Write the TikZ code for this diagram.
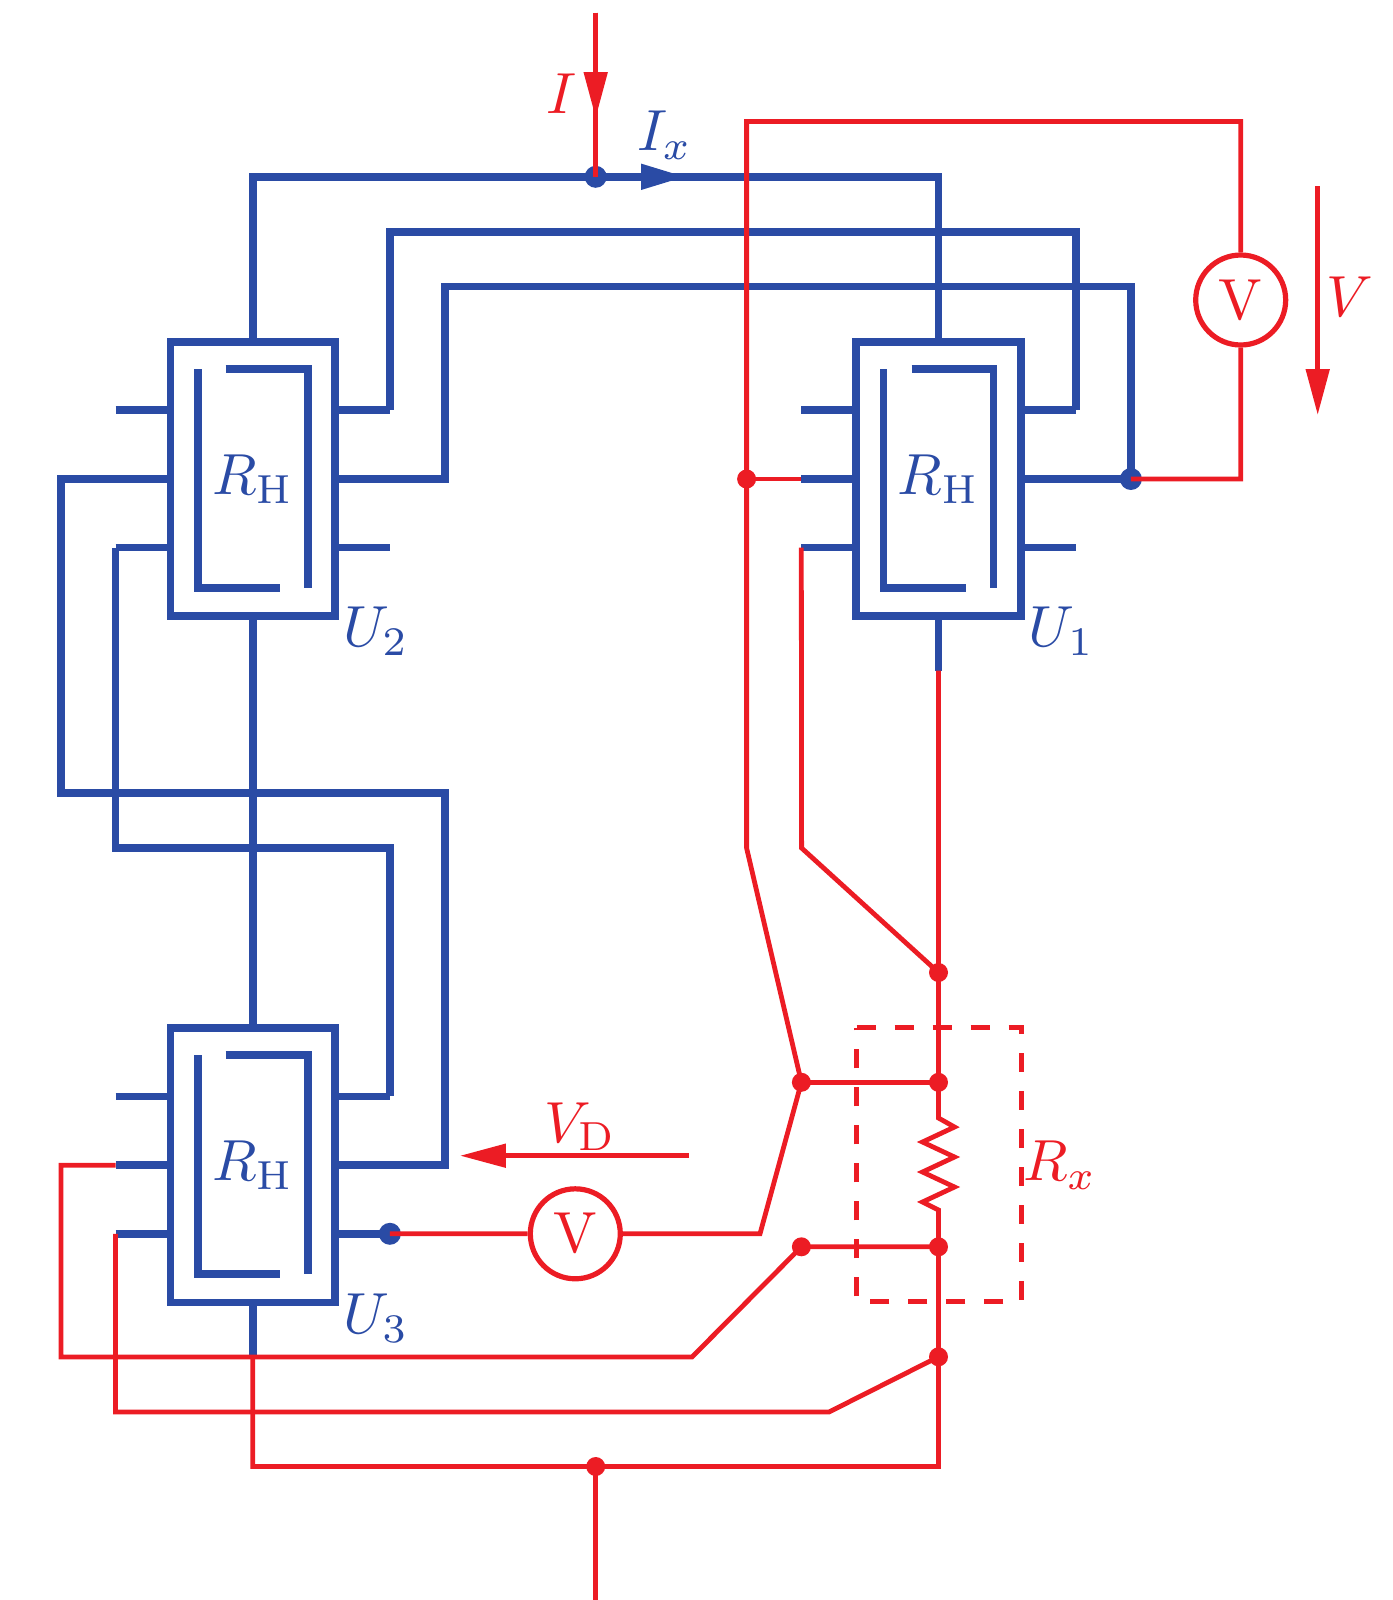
\documentclass[tikz,border=0pt]{standalone}
\usetikzlibrary{arrows.meta}
\definecolor{wireblue}{RGB}{42,75,165}
\definecolor{wirered}{RGB}{236,28,36}
\newcommand{\bigsym}[1]{\scalebox{3.3}{#1}}
\tikzset{
  bwire/.style={draw=wireblue, line width=7.7*0.02cm},
  rwire/.style={draw=wirered, line width=4.8*0.02cm},
  rarrow/.style={draw=wirered, line width=5*0.02cm, -{Triangle[length=0.92cm, width=0.46cm]}, wirered},
  barrow/.style={draw=wireblue, line width=7.7*0.02cm, -{Triangle[length=0.9cm, width=0.48cm]}, wireblue},
  bigtext/.style={inner sep=0pt},
  rhbox/.style={bwire, rectangle, text=wireblue, bigtext, minimum width=3.29cm, minimum height=5.49cm},
  bdot/.style={circle, fill=wireblue, inner sep=0pt, minimum size=0.44cm},
  rdot/.style={circle, fill=wirered, inner sep=0pt, minimum size=0.38cm},
  voltm/.style={draw=wirered, line width=5.2*0.02cm, circle, text=wirered, bigtext, fill=white, minimum size=1.8cm},
  blab/.style={bigtext, text=wireblue, anchor=base west},
  rlab/.style={bigtext, text=wirered, anchor=base west}
}

\begin{document}
\begin{tikzpicture}[x=0.02cm, y=-0.02cm]
\useasboundingbox (0,0) rectangle (1393,1600);

\node[rhbox] (U1) at (938.5,479) {\bigsym{$R_{\mathrm{H}}$}};
\node[rhbox] (U2) at (252.7,479) {\bigsym{$R_{\mathrm{H}}$}};
\node[rhbox] (U3) at (252.7,1165.2) {\bigsym{$R_{\mathrm{H}}$}};

\foreach \n in {U1,U2,U3} {
  \draw[bwire] ([shift={(-55,-110)}]\n.center) -- ([shift={(-55,109)}]\n.center) -- ([shift={(27.5,109)}]\n.center);
  \draw[bwire] ([shift={(-27,-110)}]\n.center) -- ([shift={(55,-110)}]\n.center) -- ([shift={(55,109)}]\n.center);
  \coordinate (\n l1) at ([shift={(-137.2,-68.8)}]\n.center);
  \coordinate (\n l2) at ([shift={(-137.2,0)}]\n.center);
  \coordinate (\n l3) at ([shift={(-137.2,68.6)}]\n.center);
  \coordinate (\n r1) at ([shift={(137.2,-68.8)}]\n.center);
  \coordinate (\n r2) at ([shift={(137.2,0)}]\n.center);
  \coordinate (\n r3) at ([shift={(137.2,68.6)}]\n.center);
  \draw[bwire] (\n l1) -- (\n l1 -| \n.west);
  \draw[bwire] (\n l2) -- (\n l2 -| \n.west);
  \draw[bwire] (\n l3) -- (\n l3 -| \n.west);
  \draw[bwire] (\n r1) -- (\n r1 -| \n.east);
  \draw[bwire] (\n r2) -- (\n r2 -| \n.east);
  \draw[bwire] (\n r3) -- (\n r3 -| \n.east);
}

\node[bdot] (IxNode) at (595.7,176.8) {};
\node[bdot] (VDot) at (1130.9,479) {};
\node[bdot] (VdDot) at (389.9,1233.8) {};

\coordinate (topA) at (252.7,176.8);
\coordinate (topB) at (938.5,176.8);
\draw[bwire] (U2.north) -- (topA) -- (topB) -- (U1.north);
\draw[barrow] (IxNode.center) -- (686,176.8);

\draw[bwire] (U2r1) -- (389.9,231.7) -- (1075.7,231.7) -- (U1r1);
\draw[bwire] (U2r2) -- (444.8,479) -- (444.8,286.6) -- (1130.9,286.6) -- (VDot.center);
\draw[bwire] (VDot.center) -- (U1r2);

\draw[bwire] (U2l2) -- (60.9,479) -- (60.9,793) -- (444.8,793) -- (444.8,1165.2) -- (U3r2);
\draw[bwire] (U2l3) -- (115.5,848) -- (389.9,848) -- (U3r1);
\draw[bwire] (U2.south) -- (U3.north);
\draw[bwire] (U3r3) -- (VdDot.center);
\coordinate (U1tail) at (938.5,670.5);
\coordinate (U3tail) at (252.7,1357);
\draw[bwire] (U1.south) -- (U1tail);
\draw[bwire] (U3.south) -- (U3tail);

\node[voltm] (Vm1) at (1240.7,300) {\bigsym{V}};
\node[voltm] (Vm2) at (575.3,1233.8) {\bigsym{V}};

\node[rdot] (Ra) at (938.5,972.5) {};
\node[rdot] (Rb) at (938.5,1082.3) {};
\node[rdot] (Rc) at (938.5,1246.8) {};
\node[rdot] (Rd) at (938.5,1356.8) {};
\node[rdot] (Re) at (801.4,1082.3) {};
\node[rdot] (Rf) at (801.4,1246.8) {};
\node[rdot] (Rg) at (746.6,479) {};
\node[rdot] (Rh) at (595.7,1466.5) {};

\coordinate (Itop) at (595.7,12.5);
\coordinate (Ibot) at (595.7,1600);
\coordinate (Rbl) at (252.7,1466.5);
\coordinate (Rbr) at (938.5,1466.5);
\draw[rwire] (U1tail) -- (Ra.center) -- (Rb.center) -- (938.5,1118) -- ++(16,9) -- ++(-32,15) -- ++(32,15) -- ++(-32,15) -- ++(32,15) -- ++(-32,15) -- (938.5,1210) -- (Rc.center) -- (Rd.center) -- (Rbr) -- (Rbl) -- (U3tail);
\draw[rwire] (Rh.center) -- (Ibot);
\draw[rwire] (Itop) -- (IxNode.center);
\draw[rarrow] (Itop) -- (595.7,118);

\draw[rwire] (U1l3) -- (801.6,848) -- (Ra.center);
\draw[rwire] (U1l2) -- (Rg.center);
\draw[rwire] (VdDot.center) -- (Vm2) -- (760,1233.8) -- (Re.center) -- (746.6,848) -- (Rg.center) -- (746.6,121.5) -- (1240.7,121.5) -- (Vm1) -- (1240.7,479) -- (VDot.center);
\draw[rwire] (Re.center) -- (Rb.center);
\draw[rwire] (Rc.center) -- (Rf.center) -- (692,1357) -- (60.9,1357) -- (60.9,1165.2) -- (U3l2);
\draw[rwire] (Rd.center) -- (829,1412) -- (115.5,1412) -- (U3l3);

\coordinate (RxA) at (856.7,1027.7);
\coordinate (RxB) at (1021,1301.7);
\draw[rwire, line width=5*0.02cm, dash pattern=on 0.38cm off 0.38cm] (RxA) -| (RxB) -| cycle;

\draw[rarrow] (1317.7,186) -- (1317.7,415);
\draw[rarrow] (689,1155.7) -- (460,1155.7);

\node[rlab] (Ilab) at (546,113) {\bigsym{$I$}};
\node[blab] (Ixlab) at (637,150.7) {\bigsym{$I_x$}};
\node[rlab] (Vlab) at (1326,316) {\bigsym{$V$}};
\node[rlab] (VDlab) at (544,1142) {\bigsym{$V_{\mathrm{D}}$}};
\node[rlab] (Rxlab) at (1023,1180.7) {\bigsym{$R_x$}};
\node[blab] (U1lab) at (1028.5,646.7) {\bigsym{$U_1$}};
\node[blab] (U2lab) at (342.7,646.7) {\bigsym{$U_2$}};
\node[blab] (U3lab) at (342.7,1333.3) {\bigsym{$U_3$}};
\end{tikzpicture}
\end{document}
